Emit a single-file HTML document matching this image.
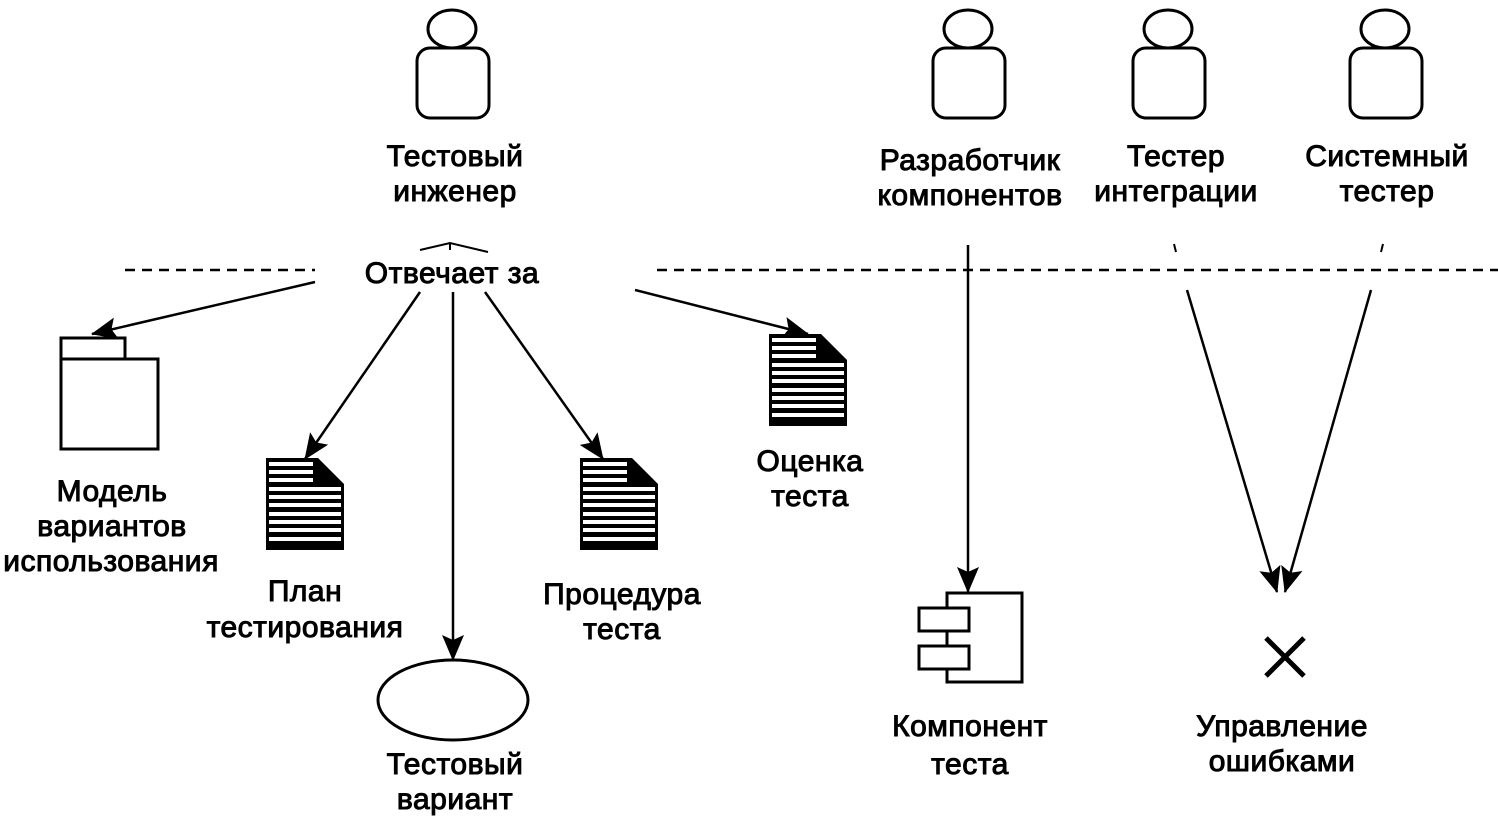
<!DOCTYPE html>
<html><head><meta charset="utf-8"><style>
html,body{margin:0;padding:0;background:#fff;}
svg{display:block}
text{font-family:"Liberation Sans",Arial,sans-serif;font-size:30px;fill:#000;stroke:#000;stroke-width:1;text-anchor:middle;letter-spacing:0.5px}
</style></head><body>
<svg width="1498" height="837" viewBox="0 0 1498 837" xmlns="http://www.w3.org/2000/svg">
<defs>
<marker id="A" markerWidth="26" markerHeight="22" refX="25" refY="11" orient="auto" markerUnits="userSpaceOnUse" viewBox="0 0 26 22">
<path d="M0,0 L26,11 L0,22 L5,11 Z" fill="#000"/></marker>
<g id="doc">
<path d="M0,0 H52 L78,26 V92 H0 Z" fill="#000"/>
<g fill="#fff">
<rect x="3" y="4" width="44" height="4"/><rect x="3" y="12" width="44" height="4"/><rect x="3" y="20" width="44" height="4"/>
<rect x="3" y="29" width="72" height="4"/><rect x="3" y="37" width="72" height="4"/><rect x="3" y="45" width="72" height="4"/>
<rect x="3" y="54" width="72" height="4"/><rect x="3" y="62" width="72" height="4"/><rect x="3" y="70" width="72" height="4"/>
<rect x="3" y="79" width="72" height="4"/>
</g>
</g>
<g id="actor" fill="none" stroke="#000" stroke-width="3">
<ellipse cx="0" cy="29" rx="24" ry="19"/>
<rect x="-35" y="48" width="72" height="70" rx="13"/>
</g>
</defs>

<use href="#actor" x="452" y="0"/>
<use href="#actor" x="968" y="0"/>
<use href="#actor" x="1168" y="0"/>
<use href="#actor" x="1385" y="0"/>

<text x="455" y="166">Тестовый</text>
<text x="455" y="201">инженер</text>
<text x="970" y="170">Разработчик</text>
<text x="970" y="205">компонентов</text>
<text x="1176" y="166">Тестер</text>
<text x="1176" y="201">интеграции</text>
<text x="1387" y="166">Системный</text>
<text x="1387" y="201">тестер</text>

<g stroke="#000" stroke-width="2.5" fill="none">
<line x1="125" y1="270" x2="315" y2="270" stroke-dasharray="10,7"/>
<line x1="657" y1="270" x2="1498" y2="270" stroke-dasharray="10,7"/>
<path d="M420,250 L450,243 L488,252" stroke-width="2"/>
<line x1="450" y1="243" x2="450" y2="250" stroke-width="2"/>
<line x1="1174" y1="244" x2="1176" y2="252" stroke-width="2"/>
<line x1="1383" y1="244" x2="1381" y2="252" stroke-width="2"/>
<line x1="315" y1="282" x2="92" y2="334" marker-end="url(#A)"/>
<line x1="420" y1="292" x2="305" y2="459" marker-end="url(#A)"/>
<line x1="453" y1="292" x2="453" y2="660" marker-end="url(#A)"/>
<line x1="485" y1="292" x2="603" y2="459" marker-end="url(#A)"/>
<line x1="635" y1="290" x2="808" y2="334" marker-end="url(#A)"/>
<line x1="968" y1="245" x2="968" y2="592" marker-end="url(#A)"/>
<line x1="1187" y1="290" x2="1277" y2="592" marker-end="url(#A)"/>
<line x1="1371" y1="290" x2="1285" y2="592" marker-end="url(#A)"/>
</g>

<text x="452" y="283">Отвечает за</text>

<g fill="#fff" stroke="#000" stroke-width="3">
<rect x="61" y="338" width="64" height="22"/>
<rect x="61" y="359" width="97" height="90"/>
<ellipse cx="453" cy="700" rx="75" ry="40"/>
<rect x="947" y="593" width="75" height="89"/>
<rect x="919" y="608" width="50" height="23"/>
<rect x="919" y="646" width="50" height="23"/>
</g>
<g stroke="#000" stroke-width="5">
<line x1="1266" y1="638" x2="1304" y2="676"/>
<line x1="1304" y1="638" x2="1266" y2="676"/>
</g>

<use href="#doc" x="266" y="458"/>
<use href="#doc" x="580" y="458"/>
<use href="#doc" x="769" y="334"/>

<text x="112" y="501">Модель</text>
<text x="112" y="536">вариантов</text>
<text x="111" y="571">использования</text>
<text x="305" y="601">План</text>
<text x="305" y="637">тестирования</text>
<text x="455" y="774">Тестовый</text>
<text x="455" y="809">вариант</text>
<text x="622" y="604">Процедура</text>
<text x="622" y="639">теста</text>
<text x="810" y="471">Оценка</text>
<text x="810" y="506">теста</text>
<text x="970" y="736">Компонент</text>
<text x="970" y="774">теста</text>
<text x="1282" y="736">Управление</text>
<text x="1282" y="771">ошибками</text>
</svg>
</body></html>
